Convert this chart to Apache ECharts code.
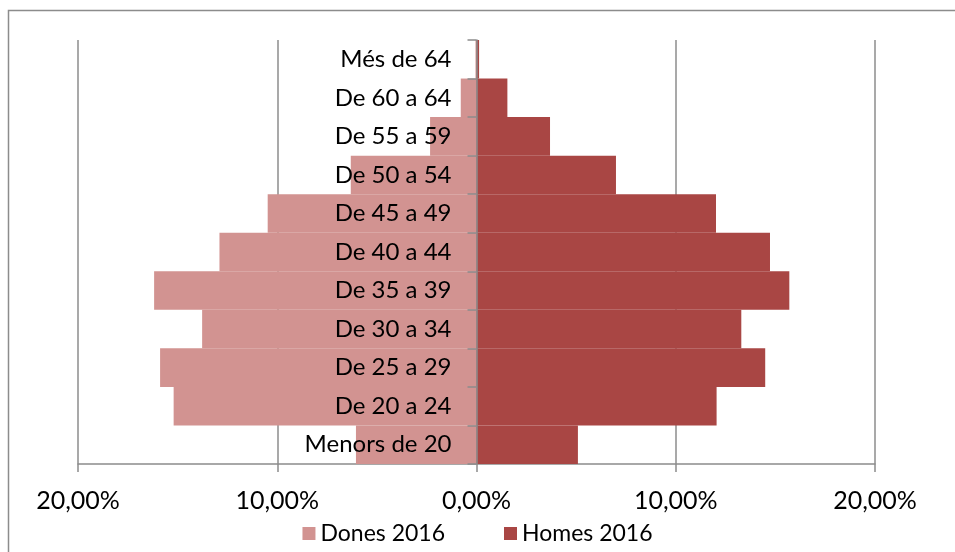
<!DOCTYPE html>
<html>
<head>
<meta charset="utf-8">
<script src="https://cdn.jsdelivr.net/npm/echarts@6/dist/echarts.min.js"></script>
<style>
  html, body { margin: 0; padding: 0; background: #fff; }
  #pyramid { width: 955px; height: 552px; }
</style>
</head>
<body>
<div id="pyramid"></div>
<script>
// franges d'edat, de baix a dalt
var ageGroups = ['Menors de 20', 'De 20 a 24', 'De 25 a 29', 'De 30 a 34', 'De 35 a 39',
  'De 40 a 44', 'De 45 a 49', 'De 50 a 54', 'De 55 a 59', 'De 60 a 64', 'Més de 64'];
// percentatges (%)
var dones2016 = [6.05, 15.2, 15.88, 13.77, 16.18, 12.9, 10.48, 6.31, 2.33, 0.79, 0.05];
var homes2016 = [5.09, 12.05, 14.49, 13.29, 15.7, 14.73, 12.02, 7.0, 3.69, 1.55, 0.13];
var xTicks = [-0.2, -0.1, 0, 0.1, 0.2];

var font = 'Lato, "Open Sans", sans-serif';
var gridLeft = 78, gridRight = 80;
var plotWidth = 955 - gridLeft - gridRight;
var myChart = echarts.init(document.getElementById('pyramid'));

var option = {
  animation: false,
  textStyle: { fontFamily: font },
  graphic: [{
    type: 'rect',
    shape: { x: 8.5, y: 10.5, width: 1000, height: 600 },
    style: { fill: 'none', stroke: '#8c8c8c', lineWidth: 1.5 },
    silent: true
  }],
  legend: {
    data: ['Dones 2016', 'Homes 2016'],
    bottom: 2,
    left: 'center',
    itemWidth: 13,
    itemHeight: 13,
    itemGap: 59,
    icon: 'rect',
    textStyle: { fontSize: 23, color: '#000', fontFamily: font }
  },
  grid: { left: gridLeft, right: gridRight, top: 40, bottom: 88, containLabel: false, outerBoundsMode: 'none' },
  xAxis: {
    type: 'value',
    min: xTicks[0],
    max: xTicks[xTicks.length - 1],
    interval: 0.1,
    axisLine: { show: true, lineStyle: { color: '#8c8c8c', width: 1.5 } },
    axisTick: { show: true, length: 8, lineStyle: { color: '#8c8c8c', width: 1.5 } },
    splitLine: { show: true, lineStyle: { color: '#8c8c8c', width: 1.5 } },
    axisLabel: {
      margin: 24,
      fontSize: 25,
      color: '#000',
      fontFamily: font,
      formatter: function (v) {
        return (Math.abs(v) * 100).toFixed(2).replace('.', ',') + '%';
      }
    }
  },
  yAxis: {
    type: 'category',
    data: ageGroups,
    z: 10,
    position: 'left',
    offset: -plotWidth / 2,
    axisLine: { show: true, onZero: false, lineStyle: { color: '#8c8c8c', width: 1.5 } },
    axisTick: { show: true, length: 9, lineStyle: { color: '#8c8c8c', width: 1.5 } },
    axisLabel: { margin: 25, fontSize: 24, color: '#000', fontFamily: font }
  },
  series: [
    {
      name: 'Dones 2016',
      type: 'bar',
      stack: 'pop',
      barCategoryGap: 0,
      itemStyle: { color: '#d29391' },
      data: dones2016.map(function (v) { return -v / 100; })
    },
    {
      name: 'Homes 2016',
      type: 'bar',
      stack: 'pop',
      barCategoryGap: 0,
      itemStyle: { color: '#a94644' },
      data: homes2016.map(function (v) { return v / 100; })
    }
  ]
};
myChart.setOption(option);
window.addEventListener('resize', function () { myChart.resize(); });
</script>
</body>
</html>
